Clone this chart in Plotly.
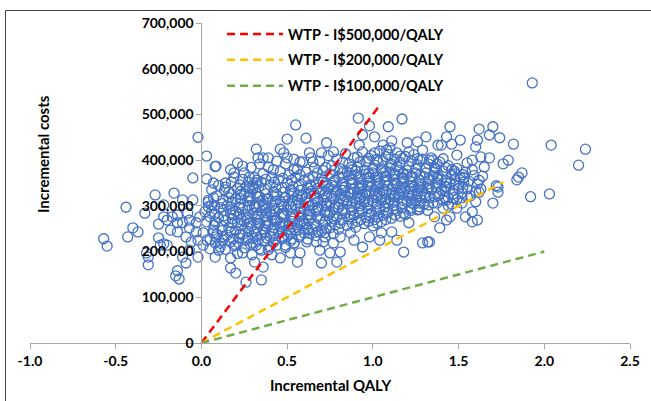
import plotly.graph_objects as go

# ---------------- data (QALY, incremental cost in thousands) ----------------
outer_left = [(-0.02,450),(0.03,409),(0.08,386),(-0.05,361),(0.03,359),(0.07,350),(-0.27,324),(-0.16,328),
    (-0.44,297),(-0.33,284),(-0.22,302),(-0.11,313),(-0.05,313),(-0.22,276),(-0.20,269),(-0.25,260),(-0.17,276),
    (-0.14,280),(-0.08,284),(-0.07,269),(-0.40,252),(-0.37,243),(-0.43,232),(-0.57,228),(-0.55,212),(-0.18,247),
    (-0.14,243),(-0.24,214),(-0.20,214),(-0.31,188),(-0.31,171),(-0.15,147),(-0.13,140),(-0.14,158),(-0.09,175),
    (-0.11,188),(-0.07,203),(-0.02,188),(-0.09,232),(-0.07,252),(-0.06,221),(-0.03,243),(-0.02,225),(-0.01,276),
    (-0.03,263),(-0.11,263),(-0.14,263),(0.04,308),(0.06,302),(0.02,287),(0.05,276),(0.08,265),(0.07,247),
    (0.01,241),(0.03,225),(0.08,219),(0.10,203),(0.01,214),(-0.32,197),(-0.25,230),(-0.22,217)]

outer_top = [(0.55,477),(0.50,446),(0.61,448),(0.73,438),(0.32,424),(0.46,424),(0.48,416),(0.33,405),(0.36,405),
    (0.39,405),(0.50,405),(0.63,416),(0.70,416),(0.085,387),(0.21,394),(0.24,387),(0.17,379),(0.19,363),(0.575,396),
    (0.65,396),(0.14,341),(0.28,363),(0.32,350),(0.42,379),(0.54,379),
    (0.915,492),(1.17,490),(0.98,475),(1.09,473),(0.94,455),(1.01,451),(0.92,433),(1.06,433),(1.11,442),(1.10,427),
    (1.20,438),(1.26,440),(1.31,451),(1.38,433),(0.77,418),(1.01,416),(1.08,422),(1.21,418),(1.29,422),(0.91,407),
    (1.16,409),(1.26,403),(1.33,400),(0.97,398),(1.03,396),(0.88,379),(1.10,389)]

outer_right = [(1.93,569),(1.45,473),(1.62,468),(1.70,473),(1.68,455),(1.74,449),(1.43,451),(1.40,433),(1.46,435),
    (1.51,444),(1.61,444),(1.60,429),(1.82,435),(2.04,433),(2.24,424),(2.20,389),(1.49,411),(1.58,400),(1.55,394),
    (1.68,405),(1.63,407),(1.79,400),(1.76,392),(1.41,403),(1.65,385),(1.58,379),(1.87,372),(1.85,363),(1.64,365),
    (1.53,361),(1.46,379),(1.37,381),(1.35,400),(1.63,337),(1.73,341),
    (1.72,344),(1.73,330),(1.62,330),(1.84,357),(1.92,320),(2.03,326),(1.55,320),(1.60,309),(1.70,306),(1.58,287),
    (1.54,276),(1.61,269),(1.58,265),(1.45,276),(1.43,269),(1.39,252),(1.33,221),(1.49,295),(1.41,295),
    (1.42,318),(1.47,326),(1.52,306),(1.44,300),(1.50,338)]

outer_bottom = [(1.18,199),(1.29,219),(1.32,221),(0.94,210),(0.81,199),(0.75,197),(0.79,177),(0.70,175),(0.77,219),
    (0.71,221),(1.04,225),(1.14,225),(1.21,263),(1.26,291),(1.36,276),(1.11,243),(1.05,241),(0.98,232),(0.89,225),
    (0.87,241),(0.81,232),(0.72,241),
    (0.26,133),(0.35,138),(0.20,153),(0.17,164),(0.36,166),(0.31,177),(0.46,186),(0.56,177),(0.52,197),(0.575,197),
    (0.41,193),(0.295,193),(0.24,197),(0.40,210),(0.35,203),(0.69,203),(0.67,221),(0.615,221),(0.17,186),(0.08,188),
    (0.11,210),(0.20,214),(0.30,219),(0.49,214),(0.54,219)]

core_left = [(0.04,312),(0.06,288),(0.03,265),(0.07,241),(0.05,226),(0.04,298),(0.06,335),(0.05,206),
    (0.09,322),(0.11,296),(0.10,274),(0.12,255),(0.09,238),(0.11,218),(0.10,345),(0.12,305),(0.08,282),(0.13,232),
    (0.14,350),(0.16,318),(0.15,300),(0.17,284),(0.14,268),(0.16,252),(0.15,236),(0.17,221),(0.14,205),(0.16,330),(0.18,262),(0.13,290),
    (0.19,372),(0.21,338),(0.20,315),(0.22,297),(0.19,279),(0.21,263),(0.20,246),(0.22,230),(0.19,212),(0.21,196),(0.23,324),(0.18,308),(0.23,270),(0.20,288),
    (0.24,358),(0.26,342),(0.25,326),(0.27,311),(0.24,294),(0.26,280),(0.25,266),(0.27,252),(0.24,238),(0.26,225),(0.25,208),(0.28,300),(0.23,316),(0.27,274),(0.25,372),
    (0.29,384),(0.31,362),(0.30,345),(0.32,329),(0.29,313),(0.31,298),(0.30,284),(0.32,270),(0.29,256),(0.31,243),(0.30,229),(0.32,214),(0.33,305),(0.28,322),(0.33,262),(0.30,338),
    (0.34,392),(0.36,370),(0.35,352),(0.37,336),(0.34,320),(0.36,303),(0.35,289),(0.37,276),(0.34,262),(0.36,249),(0.35,236),(0.37,222),(0.34,206),(0.38,294),(0.33,280),(0.36,312),
    (0.39,385),(0.41,362),(0.40,346),(0.42,330),(0.39,316),(0.41,301),(0.40,287),(0.42,273),(0.39,259),(0.41,246),(0.40,233),(0.42,220),(0.39,204),(0.43,310),(0.38,268),(0.41,280),
    (0.44,398),(0.46,375),(0.45,357),(0.47,340),(0.44,325),(0.46,310),(0.45,295),(0.47,282),(0.44,268),(0.46,255),(0.45,242),(0.47,228),(0.44,214),(0.48,300),(0.43,288),(0.46,264),
    (0.49,392),(0.51,368),(0.50,350),(0.52,334),(0.49,318),(0.51,304),(0.50,290),(0.52,276),(0.49,262),(0.51,249),(0.50,236),(0.52,223),(0.49,209),(0.53,312),(0.48,282),(0.51,258),
    (0.54,402),(0.56,380),(0.55,362),(0.57,345),(0.54,329),(0.56,314),(0.55,300),(0.57,286),(0.54,272),(0.56,259),(0.55,246),(0.57,232),(0.54,218),(0.58,294),(0.53,266),(0.56,322),
    (0.59,396),(0.61,374),(0.60,356),(0.62,339),(0.59,323),(0.61,308),(0.60,294),(0.62,280),(0.59,266),(0.61,253),(0.60,240),(0.62,227),(0.63,300),(0.58,288),(0.61,318),(0.60,262),
    (0.64,405),(0.66,383),(0.65,365),(0.67,348),(0.64,332),(0.66,317),(0.65,302),(0.67,288),(0.64,274),(0.66,261),(0.65,248),(0.67,235),(0.68,310),(0.63,282),(0.66,326),(0.64,342),
    (0.69,398),(0.71,377),(0.70,360),(0.72,344),(0.69,328),(0.71,313),(0.70,299),(0.72,285),(0.69,271),(0.71,258),(0.70,245),(0.72,232),(0.73,320),(0.68,292),(0.71,352),(0.70,336),
    (0.74,410),(0.76,388),(0.75,370),(0.77,353),(0.74,337),(0.76,322),(0.75,307),(0.77,293),(0.74,279),(0.76,266),(0.75,252),(0.77,239),(0.78,330),(0.73,300),(0.76,345),(0.75,284)]

core_left_fill = [(0.075,300),(0.075,258),(0.085,232),(0.07,318),
    (0.125,312),(0.13,278),(0.12,246),(0.125,225),(0.135,335),
    (0.175,326),(0.175,292),(0.18,272),(0.17,244),(0.185,228),(0.175,352),
    (0.225,346),(0.225,306),(0.22,282),(0.23,256),(0.225,238),(0.215,220),(0.23,332),
    (0.275,352),(0.275,318),(0.27,290),(0.28,262),(0.275,244),(0.27,230),(0.28,338),(0.285,216),
    (0.325,356),(0.325,320),(0.32,296),(0.33,276),(0.325,252),(0.32,238),(0.33,226),(0.335,342),
    (0.375,358),(0.375,326),(0.37,300),(0.38,284),(0.375,256),(0.37,242),(0.38,230),(0.385,314),
    (0.425,352),(0.425,322),(0.42,294),(0.43,268),(0.425,252),(0.42,238),(0.43,226),(0.435,340),
    (0.475,360),(0.475,330),(0.47,304),(0.48,276),(0.475,258),(0.47,244),(0.48,232),(0.485,318),
    (0.525,356),(0.525,326),(0.52,298),(0.53,282),(0.525,254),(0.52,240),(0.53,228),(0.535,342),
    (0.575,368),(0.575,334),(0.57,306),(0.58,278),(0.575,262),(0.57,248),(0.58,236),(0.585,320),
    (0.625,360),(0.625,328),(0.62,306),(0.63,290),(0.625,268),(0.62,250),(0.63,240),(0.635,346),
    (0.675,372),(0.675,338),(0.67,316),(0.68,296),(0.675,276),(0.67,256),(0.68,244),
    (0.725,384),(0.725,350),(0.72,326),(0.73,306),(0.725,290),(0.72,266),(0.73,250)]

core_right = [(0.79,402),(0.81,381),(0.80,364),(0.82,348),(0.79,332),(0.81,317),(0.80,303),(0.82,289),(0.79,275),(0.81,262),(0.80,249),(0.83,340),(0.78,356),(0.81,325),(0.80,296),(0.82,372),
    (0.84,414),(0.86,392),(0.85,374),(0.87,358),(0.84,342),(0.86,327),(0.85,312),(0.87,298),(0.84,284),(0.86,271),(0.85,257),(0.88,350),(0.83,334),(0.86,366),(0.85,304),(0.84,320),
    (0.89,405),(0.91,384),(0.90,367),(0.92,351),(0.89,336),(0.91,321),(0.90,307),(0.92,293),(0.89,279),(0.91,266),(0.90,253),(0.93,344),(0.88,358),(0.91,328),(0.90,376),(0.92,314),
    (0.94,418),(0.96,396),(0.95,378),(0.97,362),(0.94,346),(0.96,331),(0.95,316),(0.97,302),(0.94,288),(0.96,275),(0.95,261),(0.98,354),(0.93,338),(0.96,370),(0.95,308),(0.94,324),
    (0.99,410),(1.01,389),(1.00,372),(1.02,356),(0.99,341),(1.01,326),(1.00,312),(1.02,298),(0.99,284),(1.01,270),(1.00,256),(1.03,348),(0.98,362),(1.01,334),(1.00,380),(1.02,318),
    (1.04,420),(1.06,398),(1.05,381),(1.07,365),(1.04,350),(1.06,335),(1.05,320),(1.07,306),(1.04,292),(1.06,279),(1.05,265),(1.08,357),(1.03,343),(1.06,372),(1.05,312),(1.04,328),
    (1.09,412),(1.11,391),(1.10,374),(1.12,358),(1.09,343),(1.11,328),(1.10,314),(1.12,300),(1.09,286),(1.11,273),(1.13,350),(1.08,365),(1.11,336),(1.10,382),(1.12,320),(1.09,306),
    (1.14,416),(1.16,395),(1.15,378),(1.17,362),(1.14,347),(1.16,332),(1.15,318),(1.17,304),(1.14,290),(1.16,277),(1.18,354),(1.13,370),(1.16,340),(1.15,326),(1.14,386),
    (1.19,408),(1.21,386),(1.20,369),(1.22,353),(1.19,338),(1.21,323),(1.20,309),(1.22,295),(1.19,281),(1.23,345),(1.18,361),(1.21,331),(1.20,377),(1.22,316),
    (1.24,412),(1.26,390),(1.25,372),(1.27,356),(1.24,341),(1.26,326),(1.25,312),(1.27,298),(1.28,348),(1.23,364),(1.26,334),(1.25,381),(1.24,304),
    (1.29,402),(1.31,382),(1.30,364),(1.32,348),(1.29,333),(1.31,318),(1.30,304),(1.33,356),(1.28,340),(1.31,372),(1.30,326),(1.32,290),
    (1.34,405),(1.36,384),(1.35,366),(1.37,350),(1.34,335),(1.36,320),(1.35,306),(1.38,358),(1.33,342),(1.36,374),
    (1.39,396),(1.41,376),(1.40,358),(1.42,342),(1.39,327),(1.41,312),(1.43,350),(1.38,366),(1.40,334),
    (1.44,388),(1.46,368),(1.45,350),(1.47,334),(1.44,318),(1.46,304),(1.48,358),(1.43,342),
    (1.49,382),(1.51,362),(1.50,345),(1.52,329),(1.49,314),(1.53,352),(1.48,370),
    (1.54,374),(1.56,354),(1.55,337),(1.57,322),(1.53,362),
    (1.59,366),(1.61,348),(1.60,332),(1.62,356)]

core_right_fill = [(0.775,378),(0.775,342),(0.77,316),(0.78,298),(0.775,272),(0.78,258),
    (0.825,396),(0.825,362),(0.82,334),(0.83,312),(0.825,294),(0.82,270),
    (0.875,384),(0.875,350),(0.87,330),(0.88,306),(0.875,290),(0.87,276),(0.88,262),
    (0.925,396),(0.925,362),(0.92,338),(0.93,318),(0.925,300),(0.92,284),(0.93,270),
    (0.975,404),(0.975,370),(0.97,344),(0.98,326),(0.975,310),(0.97,294),(0.98,280),(0.975,266),
    (1.025,402),(1.025,364),(1.02,340),(1.03,322),(1.025,304),(1.02,288),(1.03,276),(1.025,262),
    (1.075,408),(1.075,376),(1.07,352),(1.08,330),(1.075,314),(1.07,298),(1.08,284),(1.075,270),
    (1.125,402),(1.125,368),(1.12,344),(1.13,324),(1.125,308),(1.12,292),(1.13,280),
    (1.175,404),(1.175,372),(1.17,348),(1.18,328),(1.175,312),(1.17,296),(1.18,284),
    (1.225,398),(1.225,364),(1.22,338),(1.23,322),(1.225,306),(1.22,290),
    (1.275,400),(1.275,368),(1.27,342),(1.28,322),(1.275,306),(1.27,292),
    (1.325,392),(1.325,360),(1.32,338),(1.33,318),(1.325,302),
    (1.375,392),(1.375,362),(1.37,340),(1.38,322),(1.375,306),
    (1.425,384),(1.425,356),(1.42,332),(1.43,312),
    (1.475,376),(1.475,346),(1.47,318),
    (1.525,368),(1.525,340),(1.52,318)]

wtp_names = ["WTP - I$500,000/QALY", "WTP - I$200,000/QALY", "WTP - I$100,000/QALY"]
wtp_qaly_end = [1.03, 1.76, 2.0]
wtp_cost_end = [515000, 352000, 200000]
wtp_colors = ["#FF0000", "#FFC000", "#70AD47"]

x_tickvals = [-1.0, -0.5, 0.0, 0.5, 1.0, 1.5, 2.0, 2.5]
x_ticktext = ["-1.0", "-0.5", "0.0", "0.5", "1.0", "1.5", "2.0", "2.5"]
y_tickvals = [0, 100000, 200000, 300000, 400000, 500000, 600000, 700000]
y_ticktext = ["0", "100,000", "200,000", "300,000", "400,000", "500,000", "600,000", "700,000"]

# ---------------- figure ----------------
all_pts = (outer_left + outer_top + outer_right + outer_bottom
           + core_left + core_left_fill + core_right + core_right_fill)
qaly = [p[0] for p in all_pts]
cost = [p[1] * 1000 for p in all_pts]

FONT = "Lato"
fig = go.Figure()
fig.add_trace(go.Scatter(
    x=qaly, y=cost, mode="markers", showlegend=False, hoverinfo="skip",
    marker=dict(symbol="circle-open", size=10, color="#4472C4", line=dict(width=1.3, color="#4472C4"))))

for i, name in enumerate(wtp_names):
    fig.add_trace(go.Scatter(
        x=[0, wtp_qaly_end[i]], y=[0, wtp_cost_end[i]], mode="lines", name=name,
        legendgroup=name,
        line=dict(color=wtp_colors[i], width=2.5, dash="8px,5px")))

W, H = 651, 401
L, R, T, B = 30, 21, 23, 58
pw, ph = W - L - R, H - T - B

def px2x(px):
    return (px - L) / pw

def py2y(py):
    return 1 - (py - T) / ph

axis_font = dict(family=FONT, size=14, color="#000000", weight="bold")

fig.update_layout(
    width=W, height=H,
    margin=dict(l=L, r=R, t=T, b=B, autoexpand=False),
    paper_bgcolor="white", plot_bgcolor="white",
    font=dict(family=FONT, color="#000000"),
    xaxis=dict(range=[-1.0, 2.5], tickvals=x_tickvals, ticktext=x_ticktext, automargin=False,
               showgrid=False, zeroline=False, showline=True, linecolor="#A6A6A6", linewidth=1,
               ticks="outside", ticklen=5, tickcolor="#A6A6A6", tickfont=axis_font, anchor="y"),
    yaxis=dict(range=[0, 700000], tickvals=y_tickvals, ticktext=y_ticktext, automargin=False,
               showgrid=False, zeroline=False, showline=True, linecolor="#A6A6A6", linewidth=1,
               ticks="outside", ticklen=5, tickcolor="#A6A6A6", tickfont=axis_font,
               anchor="free", position=1.0 / 3.5),
    legend=dict(x=px2x(222), y=py2y(18), xanchor="left", yanchor="top",
                bgcolor="rgba(0,0,0,0)", tracegroupgap=4, itemwidth=56,
                font=dict(family=FONT, size=14.5, color="#000000", weight="bold")),
    annotations=[
        dict(text="Incremental QALY", x=px2x(330), y=py2y(385), xref="paper", yref="paper",
             xanchor="center", yanchor="middle",
             showarrow=False, font=dict(family=FONT, size=15, color="#000000", weight="bold")),
        dict(text="Incremental costs", x=px2x(43), y=py2y(154), xref="paper", yref="paper",
             xanchor="center", yanchor="middle",
             textangle=-90, showarrow=False, font=dict(family=FONT, size=15, color="#000000", weight="bold")),
    ],
    shapes=[
        dict(type="rect", xref="paper", yref="paper", layer="above",
             x0=px2x(5.5), x1=px2x(670), y0=py2y(10.5), y1=py2y(420),
             line=dict(color="#404040", width=1), fillcolor="rgba(0,0,0,0)"),
    ],
)

fig.write_html("out.html", config={"displayModeBar": False},
               post_script="document.body.style.margin='0px';document.body.style.overflow='hidden';")
